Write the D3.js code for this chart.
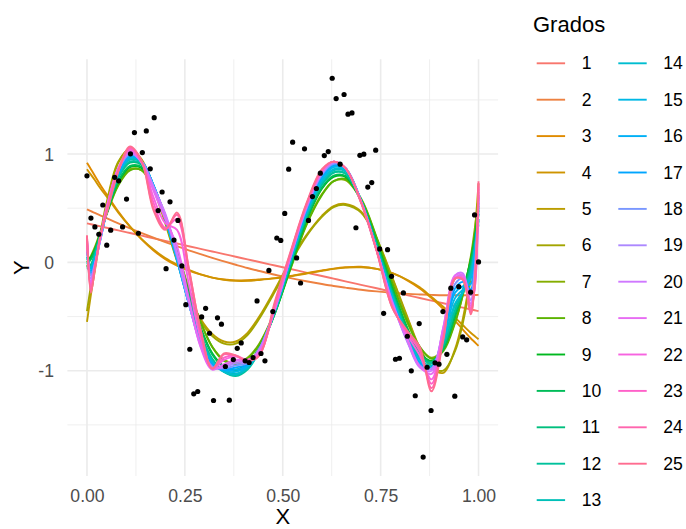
<!DOCTYPE html>
<html>
<head>
<meta charset="utf-8">
<script src="https://cdn.jsdelivr.net/npm/d3@7/dist/d3.min.js"></script>
<style>
  body { margin: 0; background: #fff; }
  text { font-family: "Liberation Sans", Arial, Helvetica, sans-serif; }
</style>
</head>
<body>
<svg id="chart" width="686" height="529"></svg>
<script>
// Observations
const xs = [0.0000,0.0101,0.0202,0.0303,0.0404,0.0505,0.0606,0.0707,0.0808,0.0909,
            0.1010,0.1111,0.1212,0.1313,0.1414,0.1515,0.1616,0.1717,0.1818,0.1919,
            0.2020,0.2121,0.2222,0.2323,0.2424,0.2525,0.2626,0.2727,0.2828,0.2929,
            0.3030,0.3131,0.3232,0.3333,0.3434,0.3535,0.3636,0.3737,0.3838,0.3939,
            0.4040,0.4141,0.4242,0.4343,0.4444,0.4545,0.4646,0.4747,0.4848,0.4949,
            0.5051,0.5152,0.5253,0.5354,0.5455,0.5556,0.5657,0.5758,0.5859,0.5960,
            0.6061,0.6162,0.6263,0.6364,0.6465,0.6566,0.6667,0.6768,0.6869,0.6970,
            0.7071,0.7172,0.7273,0.7374,0.7475,0.7576,0.7677,0.7778,0.7879,0.7980,
            0.8081,0.8182,0.8283,0.8384,0.8485,0.8586,0.8687,0.8788,0.8889,0.8990,
            0.9091,0.9192,0.9293,0.9394,0.9495,0.9596,0.9697,0.9798,0.9899,1.0000];
const ys = [0.799,0.409,0.327,0.260,0.530,0.159,0.297,0.785,0.753,0.327,
            0.585,1.002,1.198,0.269,1.014,1.214,0.864,1.336,0.478,0.650,
            -0.058,0.559,0.206,0.387,-0.033,-0.390,-0.802,-1.213,-1.192,-0.503,
            -0.424,-0.654,-1.275,-0.512,-0.570,-0.961,-1.272,-0.897,-0.793,-0.743,
            -0.909,-0.924,-0.878,-0.356,-0.841,-0.909,-0.074,-0.454,0.225,0.203,
            0.452,0.861,1.110,0.041,-0.190,1.048,0.387,0.608,0.682,0.824,
            0.986,1.023,1.700,1.512,0.907,1.550,1.368,1.380,0.320,0.988,
            0.999,0.695,0.737,1.036,0.124,-0.470,0.117,-0.129,-0.894,-0.885,
            -0.282,-0.682,-1.001,-1.231,-0.565,-1.797,-0.968,-1.367,-0.927,-0.940,
            -0.454,-0.849,-0.238,-1.235,-0.224,-0.688,-0.715,-0.275,0.438,0.004];

// Polynomial degrees
const grados = [1,2,3,4,5,6,7,8,9,10,11,12,13,14,15,16,17,18,19,20,21,22,23,24,25];

// x positions where each fitted curve is sampled
const curveX = [0, 0.01, 0.02, 0.035, 0.05, 0.08, 0.11, 0.14, 0.17, 0.20, 0.23, 0.26,
                0.29, 0.32, 0.35, 0.38, 0.41, 0.44, 0.48, 0.52, 0.56, 0.60, 0.63, 0.66,
                0.70, 0.74, 0.78, 0.82, 0.85, 0.88, 0.91, 0.94, 0.96, 0.98, 0.99, 1.00];

// Fitted values for each degree, at curveX
const grado1  = [0.360,0.352,0.344,0.332,0.320,0.295,0.271,0.247,0.222,0.198,0.174,0.149,0.125,0.101,0.077,0.052,0.028,0.004,-0.029,-0.061,-0.094,-0.126,-0.150,-0.175,-0.207,-0.239,-0.272,-0.304,-0.329,-0.353,-0.377,-0.401,-0.418,-0.434,-0.442,-0.450];
const grado2  = [0.490,0.473,0.457,0.432,0.408,0.361,0.315,0.271,0.229,0.188,0.149,0.111,0.076,0.041,0.009,-0.022,-0.052,-0.079,-0.114,-0.145,-0.174,-0.200,-0.218,-0.233,-0.252,-0.268,-0.281,-0.291,-0.296,-0.300,-0.303,-0.303,-0.303,-0.302,-0.301,-0.300];
const grado3  = [0.92,0.86,0.80,0.71,0.63,0.47,0.33,0.21,0.11,0.03,-0.03,-0.075,-0.11,-0.14,-0.158,-0.166,-0.165,-0.158,-0.145,-0.125,-0.10,-0.075,-0.057,-0.045,-0.04,-0.06,-0.10,-0.17,-0.24,-0.33,-0.43,-0.54,-0.62,-0.70,-0.735,-0.77];
const grado4  = [0.86,0.81,0.76,0.68,0.61,0.46,0.33,0.215,0.12,0.04,-0.02,-0.07,-0.11,-0.14,-0.16,-0.17,-0.17,-0.162,-0.148,-0.128,-0.103,-0.078,-0.06,-0.048,-0.045,-0.06,-0.10,-0.165,-0.23,-0.32,-0.41,-0.51,-0.58,-0.65,-0.68,-0.71];
const grado5  = [-0.55,-0.30,-0.08,0.25,0.52,0.92,1.05,0.95,0.70,0.38,0.02,-0.30,-0.52,-0.66,-0.73,-0.73,-0.65,-0.50,-0.25,0.02,0.25,0.43,0.52,0.54,0.47,0.22,-0.14,-0.52,-0.79,-0.97,-1.02,-0.80,-0.52,-0.10,0.25,0.73];
const grado6  = [-0.45,-0.22,-0.02,0.28,0.55,0.93,1.04,0.93,0.68,0.36,0.01,-0.31,-0.54,-0.68,-0.75,-0.75,-0.67,-0.52,-0.27,0.00,0.24,0.42,0.51,0.53,0.46,0.21,-0.15,-0.53,-0.80,-0.96,-1.00,-0.82,-0.56,-0.15,0.18,0.62];
const grado7  = [0.00,0.06,0.14,0.29,0.45,0.72,0.86,0.85,0.68,0.42,0.10,-0.25,-0.55,-0.78,-0.90,-0.93,-0.88,-0.75,-0.45,-0.05,0.35,0.63,0.75,0.76,0.58,0.22,-0.20,-0.57,-0.78,-0.88,-0.80,-0.55,-0.30,0.05,0.30,0.60];
const grado8  = [-0.04,0.04,0.12,0.28,0.44,0.71,0.85,0.85,0.69,0.43,0.11,-0.24,-0.55,-0.78,-0.91,-0.94,-0.89,-0.76,-0.46,-0.06,0.34,0.62,0.75,0.77,0.59,0.23,-0.19,-0.56,-0.78,-0.89,-0.82,-0.56,-0.30,0.03,0.25,0.52];
const grado9  = [0.02,0.05,0.12,0.28,0.45,0.74,0.88,0.87,0.70,0.43,0.09,-0.28,-0.60,-0.84,-0.96,-0.99,-0.93,-0.79,-0.47,-0.04,0.38,0.68,0.79,0.79,0.57,0.19,-0.24,-0.62,-0.83,-0.91,-0.80,-0.50,-0.26,0.02,0.22,0.48];
const grado10 = [0.00,0.03,0.11,0.27,0.45,0.75,0.89,0.88,0.70,0.43,0.08,-0.29,-0.61,-0.85,-0.97,-1.00,-0.94,-0.80,-0.47,-0.03,0.39,0.69,0.80,0.80,0.57,0.18,-0.25,-0.63,-0.84,-0.92,-0.80,-0.49,-0.27,0.00,0.20,0.45];
const grado11 = [-0.05,-0.02,0.08,0.27,0.46,0.78,0.92,0.90,0.70,0.41,0.05,-0.33,-0.66,-0.89,-1.00,-1.03,-0.97,-0.81,-0.46,0.00,0.42,0.72,0.83,0.82,0.57,0.16,-0.28,-0.66,-0.86,-0.92,-0.77,-0.45,-0.27,-0.05,0.15,0.40];
const grado12 = [-0.06,-0.03,0.07,0.26,0.46,0.79,0.93,0.91,0.70,0.40,0.04,-0.34,-0.67,-0.90,-1.01,-1.05,-0.99,-0.82,-0.46,0.00,0.42,0.72,0.83,0.82,0.56,0.15,-0.29,-0.67,-0.87,-0.93,-0.77,-0.44,-0.28,-0.07,0.12,0.38];
const grado13 = [-0.03,-0.04,0.05,0.25,0.46,0.80,0.95,0.92,0.70,0.40,0.03,-0.35,-0.69,-0.91,-1.01,-1.04,-0.98,-0.82,-0.45,0.01,0.44,0.74,0.85,0.84,0.57,0.14,-0.31,-0.69,-0.89,-0.95,-0.74,-0.40,-0.28,-0.10,0.10,0.35];
const grado14 = [0.00,-0.05,0.04,0.25,0.46,0.81,0.96,0.93,0.71,0.40,0.02,-0.37,-0.71,-0.92,-1.01,-1.03,-0.97,-0.81,-0.44,0.02,0.45,0.75,0.86,0.85,0.57,0.13,-0.32,-0.70,-0.90,-0.96,-0.73,-0.38,-0.27,-0.12,0.10,0.40];
const grado15 = [0.05,-0.06,0.03,0.24,0.46,0.82,0.97,0.93,0.71,0.40,0.02,-0.38,-0.72,-0.93,-1.00,-1.01,-0.96,-0.81,-0.44,0.02,0.46,0.77,0.88,0.86,0.57,0.12,-0.33,-0.71,-0.92,-0.97,-0.70,-0.33,-0.25,-0.15,0.10,0.45];
const grado16 = [0.10,-0.08,0.02,0.23,0.46,0.83,0.98,0.93,0.71,0.41,0.03,-0.38,-0.73,-0.94,-0.99,-0.99,-0.95,-0.80,-0.44,0.03,0.47,0.78,0.89,0.87,0.57,0.12,-0.34,-0.72,-0.93,-0.98,-0.68,-0.28,-0.22,-0.20,0.05,0.50];
const grado17 = [0.15,-0.10,0.00,0.22,0.46,0.84,0.99,0.93,0.71,0.42,0.04,-0.38,-0.74,-0.95,-0.99,-0.97,-0.94,-0.80,-0.43,0.04,0.48,0.80,0.90,0.87,0.56,0.11,-0.35,-0.73,-0.94,-0.98,-0.66,-0.24,-0.18,-0.25,0.00,0.55];
const grado18 = [0.18,-0.12,-0.01,0.22,0.47,0.85,1.00,0.93,0.70,0.43,0.05,-0.38,-0.75,-0.96,-0.98,-0.95,-0.93,-0.80,-0.43,0.05,0.49,0.81,0.91,0.87,0.56,0.11,-0.36,-0.74,-0.95,-0.98,-0.64,-0.20,-0.15,-0.30,-0.05,0.58];
const grado19 = [0.20,-0.15,-0.02,0.23,0.48,0.86,1.01,0.93,0.70,0.44,0.07,-0.37,-0.76,-0.97,-0.97,-0.93,-0.92,-0.80,-0.43,0.05,0.50,0.82,0.92,0.87,0.56,0.11,-0.37,-0.75,-0.96,-0.98,-0.62,-0.15,-0.12,-0.35,-0.10,0.60];
const grado20 = [0.22,-0.18,-0.03,0.24,0.49,0.87,1.02,0.92,0.69,0.45,0.09,-0.36,-0.77,-0.98,-0.96,-0.91,-0.91,-0.81,-0.43,0.06,0.51,0.83,0.93,0.87,0.56,0.11,-0.38,-0.74,-0.97,-1.00,-0.60,-0.12,-0.10,-0.38,-0.20,0.62];
const grado21 = [0.22,-0.20,-0.04,0.24,0.50,0.87,1.03,0.92,0.66,0.40,0.15,-0.33,-0.78,-0.99,-0.94,-0.90,-0.90,-0.82,-0.43,0.06,0.52,0.84,0.93,0.87,0.56,0.11,-0.38,-0.72,-0.96,-1.03,-0.60,-0.12,-0.12,-0.40,-0.25,0.65];
const grado22 = [0.22,-0.22,-0.05,0.25,0.51,0.86,1.04,0.92,0.60,0.36,0.30,-0.20,-0.70,-0.98,-0.90,-0.87,-0.90,-0.84,-0.42,0.07,0.52,0.84,0.93,0.87,0.56,0.11,-0.40,-0.68,-0.86,-1.08,-0.66,-0.14,-0.14,-0.42,-0.25,0.68];
const grado23 = [0.24,-0.24,-0.05,0.25,0.48,0.85,1.05,0.93,0.55,0.32,0.40,-0.10,-0.65,-0.98,-0.88,-0.86,-0.90,-0.85,-0.40,0.08,0.53,0.85,0.93,0.87,0.56,0.11,-0.41,-0.66,-0.82,-1.12,-0.68,-0.15,-0.15,-0.44,-0.22,0.70];
const grado24 = [0.24,-0.26,-0.06,0.26,0.46,0.84,1.06,0.93,0.50,0.31,0.44,-0.06,-0.62,-0.98,-0.85,-0.86,-0.91,-0.86,-0.38,0.09,0.53,0.85,0.93,0.87,0.56,0.11,-0.42,-0.65,-0.80,-1.16,-0.70,-0.15,-0.16,-0.46,-0.20,0.73];
const grado25 = [0.25,-0.28,-0.06,0.26,0.45,0.84,1.07,0.93,0.48,0.30,0.46,-0.05,-0.62,-0.98,-0.84,-0.86,-0.91,-0.86,-0.36,0.10,0.54,0.86,0.93,0.87,0.55,0.10,-0.42,-0.64,-0.78,-1.19,-0.72,-0.15,-0.16,-0.48,-0.20,0.75];

const ajustes = [grado1, grado2, grado3, grado4, grado5, grado6, grado7, grado8, grado9,
                 grado10, grado11, grado12, grado13, grado14, grado15, grado16, grado17,
                 grado18, grado19, grado20, grado21, grado22, grado23, grado24, grado25];

// Axis ticks
const xTicks = [0, 0.25, 0.5, 0.75, 1];
const xMinor = [0.125, 0.375, 0.625, 0.875];
const yTicks = [-1, 0, 1];
const yMinor = [-1.5, -0.5, 0.5, 1.5];

// ---- layout ----
const panel = { left: 67.4, right: 498.1, top: 59.3, bottom: 476 };
const FONT_TICK = 17.6, FONT_TITLE = 22;

const svg = d3.select("#chart");

// ---- scales (5% expansion on both axes) ----
const xr = d3.extent(xs), yr = d3.extent(ys);
const xpad = (xr[1] - xr[0]) * 0.05, ypad = (yr[1] - yr[0]) * 0.05;
const x = d3.scaleLinear().domain([xr[0] - xpad, xr[1] + xpad]).range([panel.left, panel.right]);
const y = d3.scaleLinear().domain([yr[0] - ypad, yr[1] + ypad]).range([panel.bottom, panel.top]);

// ---- hue palette (polar LUV, chroma 100, luminance 65) ----
function hclHex(h, c, l) {
  const WX = 95.047, WY = 100.0, WZ = 108.883;
  const hr = h * Math.PI / 180;
  const U = c * Math.cos(hr), V = c * Math.sin(hr);
  const Y = WY * (l > 7.999592 ? Math.pow((l + 16) / 116, 3) : l / 903.3);
  const t = WX + WY + WZ, xw = WX / t, yw = WY / t;
  const uN = 2 * xw / (6 * yw - xw + 1.5), vN = 4.5 * yw / (6 * yw - xw + 1.5);
  const u = U / (13 * l) + uN, v = V / (13 * l) + vN;
  const X = 9.0 * Y * u / (4 * v);
  const Z = -X / 3 - 5 * Y + 3 * Y / v;
  const g = q => q > 0.00304 ? 1.055 * Math.pow(q, 1 / 2.4) - 0.055 : 12.92 * q;
  const clamp = q => Math.max(0, Math.min(1, q));
  const r = clamp(g((3.240479 * X - 1.537150 * Y - 0.498535 * Z) / WY));
  const gg = clamp(g((-0.969256 * X + 1.875992 * Y + 0.041556 * Z) / WY));
  const b = clamp(g((0.055648 * X - 0.204043 * Y + 1.057311 * Z) / WY));
  const hx = q => Math.round(255 * q).toString(16).padStart(2, "0");
  return "#" + hx(r) + hx(gg) + hx(b);
}
const hues = grados.map((d, i) => 15 + 360 * i / grados.length);
const color = d3.scaleOrdinal().domain(grados).range(hues.map(h => hclHex(h, 100, 65)));

const fits = grados.map((g, i) => ({ grado: g, pts: curveX.map((t, j) => [t, ajustes[i][j]]) }));

// ---- gridlines ----
const gridG = svg.append("g");
gridG.selectAll(".xminor").data(xMinor).join("line")
  .attr("x1", d => x(d)).attr("x2", d => x(d))
  .attr("y1", panel.top).attr("y2", panel.bottom)
  .attr("stroke", "#ebebeb").attr("stroke-width", 0.8);
gridG.selectAll(".yminor").data(yMinor).join("line")
  .attr("x1", panel.left).attr("x2", panel.right)
  .attr("y1", d => y(d)).attr("y2", d => y(d))
  .attr("stroke", "#ebebeb").attr("stroke-width", 0.8);
gridG.selectAll(".xmajor").data(xTicks).join("line")
  .attr("x1", d => x(d)).attr("x2", d => x(d))
  .attr("y1", panel.top).attr("y2", panel.bottom)
  .attr("stroke", "#ebebeb").attr("stroke-width", 1.6);
gridG.selectAll(".ymajor").data(yTicks).join("line")
  .attr("x1", panel.left).attr("x2", panel.right)
  .attr("y1", d => y(d)).attr("y2", d => y(d))
  .attr("stroke", "#ebebeb").attr("stroke-width", 1.6);

// ---- fitted curves ----
svg.append("clipPath").attr("id", "panelClip").append("rect")
  .attr("x", panel.left).attr("y", panel.top)
  .attr("width", panel.right - panel.left).attr("height", panel.bottom - panel.top);
const line = d3.line().x(d => x(d[0])).y(d => y(d[1])).curve(d3.curveCatmullRom.alpha(0.5));
svg.append("g").attr("clip-path", "url(#panelClip)")
  .selectAll("path").data(fits).join("path")
  .attr("d", d => line(d.pts))
  .attr("fill", "none")
  .attr("stroke", d => color(d.grado))
  .attr("stroke-width", 1.9)
  .attr("stroke-linejoin", "round");

// ---- points ----
svg.append("g").selectAll("circle").data(xs.map((t, i) => [t, ys[i]])).join("circle")
  .attr("cx", d => x(d[0])).attr("cy", d => y(d[1])).attr("r", 2.6).attr("fill", "#000");

// ---- axes ----
const xAxis = svg.append("g").attr("transform", `translate(0,${panel.bottom})`)
  .call(d3.axisBottom(x).tickValues(xTicks).tickFormat(d3.format(".2f")).tickSize(0).tickPadding(13.5));
const yAxis = svg.append("g").attr("transform", `translate(${panel.left},0)`)
  .call(d3.axisLeft(y).tickValues(yTicks).tickFormat(d => String(d)).tickSize(0).tickPadding(13.4));
[xAxis, yAxis].forEach(a => {
  a.select(".domain").remove();
  a.selectAll("text").attr("fill", "#4d4d4d").style("font-size", FONT_TICK + "px")
    .style("font-family", "'Liberation Sans', Arial, sans-serif");
});
yAxis.selectAll("text").attr("dy", "0.35em");

// axis titles
svg.append("text").attr("x", x(0.5)).attr("y", 524).attr("text-anchor", "middle")
  .style("font-size", FONT_TITLE + "px").attr("fill", "#000").text("X");
svg.append("text").attr("transform", `translate(29.3,${(panel.top + panel.bottom) / 2}) rotate(-90)`)
  .attr("text-anchor", "middle").style("font-size", FONT_TITLE + "px").attr("fill", "#000").text("Y");

// ---- legend ----
const legend = svg.append("g");
legend.append("text").attr("x", 533).attr("y", 31.5)
  .style("font-size", FONT_TITLE + "px").attr("fill", "#000").text("Grados");
const perCol = 13;
const colX = [536.7, 618.3];
const item = legend.selectAll(".item").data(grados).join("g")
  .attr("transform", (d, i) => `translate(${colX[Math.floor(i / perCol)]},${63.3 + 36.4 * (i % perCol)})`);
item.append("line").attr("x1", 0).attr("x2", 28.4).attr("y1", 0).attr("y2", 0)
  .attr("stroke", d => color(d)).attr("stroke-width", 1.9);
item.append("text").attr("x", 45).attr("dy", "0.35em")
  .style("font-size", FONT_TICK + "px").attr("fill", "#000").text(d => d);
</script>
</body>
</html>
